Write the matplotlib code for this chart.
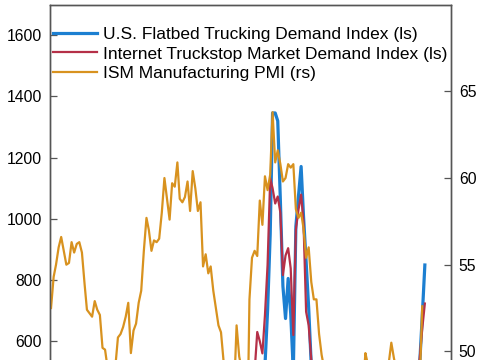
import pandas as pd
import matplotlib
matplotlib.use("Agg")
import matplotlib.pyplot as plt

plt.rcParams['font.family'] = ['Liberation Sans', 'DejaVu Sans']

# ISM Manufacturing PMI, monthly from Jan 2014 (right scale)
ism_pmi = [
    52.5, 54.3, 55.0, 56.0, 56.6, 55.8, 55.0, 55.1, 56.3, 55.7, 56.2, 56.3,
    55.7, 53.9, 52.4, 52.2, 52.0, 52.9, 52.4, 52.1, 50.2, 50.1, 49.0, 48.2,
    48.0, 49.2, 50.8, 51.0, 51.4, 52.0, 52.8, 49.9, 51.2, 51.6, 52.8, 53.5,
    55.8, 57.7, 57.0, 55.8, 56.4, 56.3, 56.5, 58.0, 60.0, 58.8, 57.6, 59.7,
    59.5, 60.9, 58.8, 58.6, 58.9, 59.8, 58.1, 60.4, 59.4, 58.1, 58.6, 54.9,
    55.6, 54.5, 54.9, 53.5, 52.5, 51.5, 51.1, 49.4, 48.6, 47.8, 48.2, 47.5,
    51.5, 49.7, 49.0, 41.5, 43.1, 53.0, 55.4, 55.8, 55.5, 58.7, 57.3, 60.1,
    59.3, 60.2, 63.8, 60.9, 61.6, 60.8, 59.8, 60.0, 60.8, 60.6, 60.8, 58.2,
    57.7, 58.0, 57.1, 55.4, 56.0, 54.0, 53.0, 53.0, 51.0, 49.8, 49.0, 48.4,
    47.4, 47.7, 46.3, 47.1, 46.9, 46.0, 46.4, 47.6, 49.0, 46.7, 46.7, 47.4,
    49.1, 47.8, 49.9, 49.2, 48.7, 48.5, 46.8, 47.2, 47.2, 46.5, 48.4, 49.3,
    50.5, 49.6, 49.0, 48.7, 48.5, 49.0, 48.0, 48.7, 49.1, 48.7, 48.2, 47.9,
    52.6,
]
ism_dates = pd.date_range("2014-01-01", periods=len(ism_pmi), freq="MS")

# flatbed demand (left scale), monthly from Jan 2019
flatbed = [
    380, 360, 400, 390, 370, 360, 350, 340, 360, 350, 330, 320,
    330, 320, 300, 260, 280, 350, 400, 430, 460, 490, 510, 520,
    700, 950, 1346, 1346, 1320, 1060, 780, 674, 805, 690, 500, 975,
    1075, 1171, 1010, 860, 710, 520, 440, 420, 400, 390, 380, 370,
    360, 380, 400, 390, 370, 350, 340, 330, 340, 330, 320, 330,
    350, 370, 380, 370, 360, 350, 340, 330, 350, 340, 330, 320,
    340, 360, 380, 370, 380, 390, 400, 410, 430, 450, 480, 520,
    680, 849,
]
flatbed_dates = pd.date_range("2019-01-01", periods=len(flatbed), freq="MS")

# internet truckstop market demand (left scale), monthly from Jan 2019
truckstop = [
    420, 400, 430, 420, 400, 390, 380, 370, 390, 380, 360, 350,
    360, 350, 320, 280, 300, 380, 450, 500, 630, 600, 560, 685,
    850, 1133, 1100, 1050, 1073, 1020, 816, 880, 904, 838, 620, 965,
    1030, 1079, 990, 696, 652, 540, 480, 450, 430, 420, 410, 400,
    390, 410, 420, 410, 400, 380, 370, 360, 370, 360, 350, 360,
    380, 390, 400, 390, 380, 370, 360, 350, 370, 360, 350, 340,
    360, 380, 400, 390, 400, 410, 420, 430, 450, 470, 490, 540,
    640, 723,
]
truckstop_dates = pd.date_range("2019-01-01", periods=len(truckstop), freq="MS")

fig = plt.figure(figsize=(4.85, 3.6), dpi=100)
# chart continues below the bottom edge of the picture
ax = fig.add_axes([0.1031, -0.4575, 0.8258, 1.4445])
ax2 = ax.twinx()

l1, = ax.plot(flatbed_dates, flatbed, color="#1c7fd1", lw=2.3,
              label="U.S. Flatbed Trucking Demand Index (ls)")
l2, = ax.plot(truckstop_dates, truckstop, color="#b53048", lw=1.6,
              label="Internet Truckstop Market Demand Index (ls)")
l3, = ax2.plot(ism_dates, ism_pmi, color="#d8921f", lw=1.6,
               label="ISM Manufacturing PMI (rs)")

ax.set_xlim(pd.Timestamp("2013-12-20"), pd.Timestamp("2026-12-01"))
ax.set_ylim(0, 1700)
ax2.set_ylim(40, 70)
# only the ticks that fall inside the visible part
ax.set_yticks(range(600, 1700, 200))
ax2.set_yticks([50, 55, 60, 65])

for a in (ax, ax2):
    for s in a.spines.values():
        s.set_color("#555555")
        s.set_linewidth(1.0)
    a.tick_params(axis="y", direction="in", length=5, width=0.9,
                  color="#555555", labelsize=11.3, pad=6)
ax.tick_params(axis="x", bottom=False, labelbottom=False)

ax2.legend(handles=[l1, l2, l3], loc="upper left", frameon=False,
           fontsize=12.5, handlelength=2.53, handletextpad=0.35,
           labelspacing=0.25, borderaxespad=0.1, borderpad=0.1,
           bbox_to_anchor=(0.0, 0.964))

fig.savefig("out.png", dpi=100)
